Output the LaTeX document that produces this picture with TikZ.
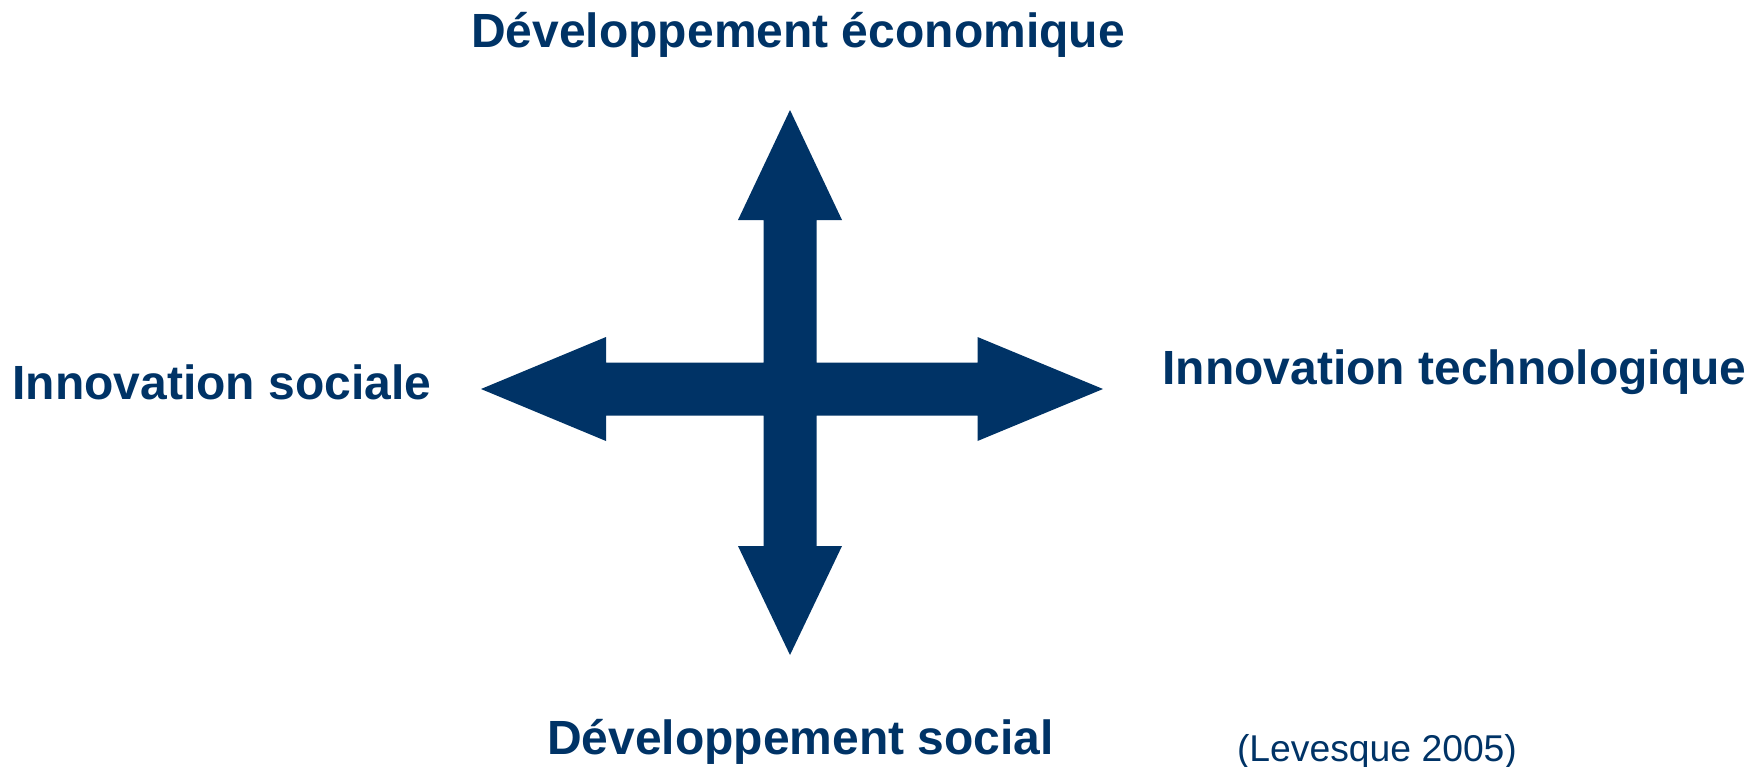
\documentclass[tikz,border=0pt]{standalone}
\usepackage{fontspec}
\setmainfont{Liberation Sans}
\usetikzlibrary{positioning}
\definecolor{marine}{RGB}{0,51,102}
\tikzset{
	titre/.style = {anchor=base, inner sep=0pt, text=marine,
		font=\fontsize{48}{57}\selectfont\bfseries},% libelle d'un axe
	source/.style = {anchor=base, inner sep=0pt, text=marine,
		font=\fontsize{37.3}{44}\selectfont},% reference
	croix/.style = {fill=marine, draw=none}% fleche a quatre branches
}
\begin{document}
\begin{tikzpicture}[x=1pt,y=-1pt]
	\useasboundingbox (0,0) rectangle (1753,766);
	\coordinate (c) at (790,389);
	% la croix
	\fill[croix] (c) ++(-26.5,-26.5) -- ++(0,-142.5) -- ++(-25.5,0) -- (790,110)
		-- (842,220) -- (816.5,220) -- (816.5,362.5)
		-- (977.5,362.5) -- (977.5,337) -- (1103,389) -- (977.5,441) -- (977.5,415.5)
		-- (816.5,415.5) -- (816.5,546) -- (842,546) -- (790,655)
		-- (738,546) -- (763.5,546) -- (763.5,415.5)
		-- (606,415.5) -- (606,441) -- (481,389) -- (606,337) -- (606,362.5)
		-- cycle;
	% les libelles
	\node[titre] (eco) at (798,47) {Développement économique};
	\node[titre] (soc) at (800.5,754.6) {Développement social};
	\node[titre] (insoc) at (222,399) {Innovation sociale};
	\node[titre] (intech) at (1454.5,384.6) {Innovation technologique};
	\node[source] (ref) at (1377,761) {(Levesque 2005)};
\end{tikzpicture}
\end{document}
